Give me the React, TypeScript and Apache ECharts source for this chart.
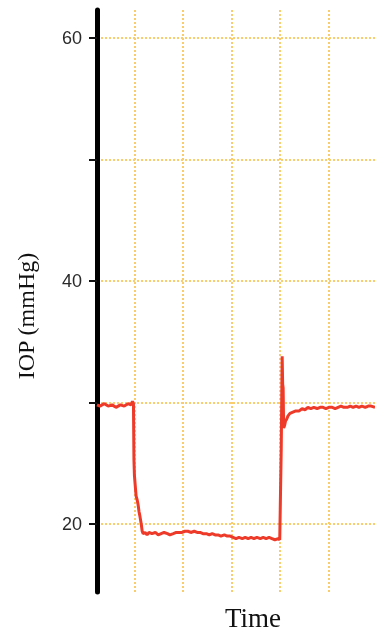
import React, { useEffect, useRef } from "react";
import * as echarts from "echarts";

// Time in seconds (gridline every 10 s), IOP in mmHg
const times = [
  -7.7, -7.1, -6.2, -5.4, -4.6, -3.8, -2.9, -2.1, -1.3, -0.7, -0.4, -0.2,
  -0.1, 0.0, 0.2, 0.35, 0.55, 0.75, 0.95, 1.15, 1.4, 1.6, 1.8, 2.2, 2.6, 3.0,
  3.6, 4.3, 4.9, 5.5, 6.1, 6.8, 7.3, 8.0, 8.6, 9.2, 9.8, 10.4, 11.0, 11.6,
  12.3, 12.9, 13.5, 14.1, 14.8, 15.4, 16.0, 16.6, 17.2, 17.8, 18.5, 19.1,
  19.7, 20.3, 20.9, 21.5, 22.2, 22.8, 23.4, 24.0, 24.6, 25.2, 25.9, 26.5,
  27.1, 27.7, 28.3, 28.9, 29.6, 29.9, 30.0, 30.2, 30.4, 30.5, 30.6, 30.7,
  30.9, 31.1, 31.3, 31.6, 32.0, 32.6, 33.2, 33.9, 34.5, 35.1, 35.7, 36.3,
  36.9, 37.6, 38.2, 38.8, 39.4, 40.0, 40.7, 41.3, 41.9, 42.5, 43.1, 43.8,
  44.4, 45.0, 45.6, 46.2, 46.8, 47.5, 48.1, 48.7, 49.5,
];
const iop = [
  29.8, 29.7, 29.9, 29.7, 29.8, 29.6, 29.8, 29.7, 29.9, 29.8, 30.1, 29.9,
  25.3, 24.0, 23.0, 22.3, 22.0, 21.6, 21.0, 20.6, 20.0, 19.4, 19.2, 19.3,
  19.1, 19.3, 19.2, 19.3, 19.1, 19.2, 19.3, 19.2, 19.1, 19.2, 19.3, 19.3,
  19.3, 19.4, 19.4, 19.3, 19.4, 19.3, 19.3, 19.2, 19.2, 19.1, 19.2, 19.1,
  19.1, 19.0, 19.1, 19.0, 19.0, 18.9, 18.8, 18.9, 18.8, 18.9, 18.8, 18.9,
  18.8, 18.9, 18.8, 18.9, 18.8, 18.9, 18.8, 18.7, 18.8, 18.7, 18.7, 26.0,
  33.8, 31.5, 31.2, 27.9, 28.1, 28.5, 28.6, 28.9, 29.1, 29.2, 29.3, 29.3,
  29.5, 29.4, 29.6, 29.5, 29.6, 29.5, 29.6, 29.6, 29.5, 29.6, 29.6, 29.5,
  29.6, 29.7, 29.6, 29.6, 29.7, 29.6, 29.7, 29.6, 29.7, 29.6, 29.7, 29.7,
  29.6,
];
const yTicks = [20, 30, 40, 50, 60];
const yLabels = [20, 40, 60];
const xGrid = [0, 10, 20, 30, 40];

const GRID_COLOR = "#f9cc6e";

export default function App() {
  const ref = useRef<HTMLDivElement>(null);
  useEffect(() => {
    if (!ref.current) return;
    const chart = echarts.init(ref.current, null, { renderer: "svg" });
    chart.setOption({
      animation: false,
      grid: { left: 97, right: 0, top: 10, bottom: 45 },
      xAxis: {
        type: "value",
        min: -7.7,
        max: 49.5,
        axisLine: { show: false, onZero: false },
        axisTick: { show: false, customValues: xGrid },
        axisLabel: { show: false, customValues: xGrid },
        splitLine: {
          show: true,
          lineStyle: { color: GRID_COLOR, width: 2, type: [2, 2] },
        },
      },
      yAxis: {
        type: "value",
        min: 14.4,
        max: 62.3,
        axisLine: {
          show: true,
          onZero: false,
          lineStyle: { color: "#000", width: 5 },
        },
        axisTick: {
          show: true,
          length: 8,
          customValues: yTicks,
          lineStyle: { color: "#111", width: 2 },
        },
        axisLabel: {
          customValues: yLabels,
          color: "#2a2a2a",
          fontFamily: "Liberation Sans, Arial, sans-serif",
          fontSize: 18,
          margin: 15,
        },
        splitLine: {
          show: true,
          lineStyle: { color: GRID_COLOR, width: 2, type: [2, 2] },
        },
      },
      graphic: [
        {
          type: "text",
          x: 26,
          y: 316,
          rotation: Math.PI / 2,
          style: {
            text: "IOP (mmHg)",
            fontFamily: "Liberation Serif, Times New Roman, serif",
            fontSize: 24,
            fill: "#111",
            align: "center",
            verticalAlign: "middle",
          },
        },
        {
          type: "text",
          x: 253,
          y: 618,
          style: {
            text: "Time",
            fontFamily: "Liberation Serif, Times New Roman, serif",
            fontSize: 27,
            fill: "#111",
            align: "center",
            verticalAlign: "middle",
          },
        },
      ],
      series: [
        {
          type: "line",
          data: times.map((t, i) => [t, iop[i]]),
          showSymbol: false,
          symbol: "none",
          lineStyle: { color: "#ee3a28", width: 3 },
          z: 3,
        },
      ],
    });
    return () => chart.dispose();
  }, []);
  return (
    <div
      ref={ref}
      style={{ position: "fixed", left: 0, top: 0, width: 375, height: 637 }}
    />
  );
}
